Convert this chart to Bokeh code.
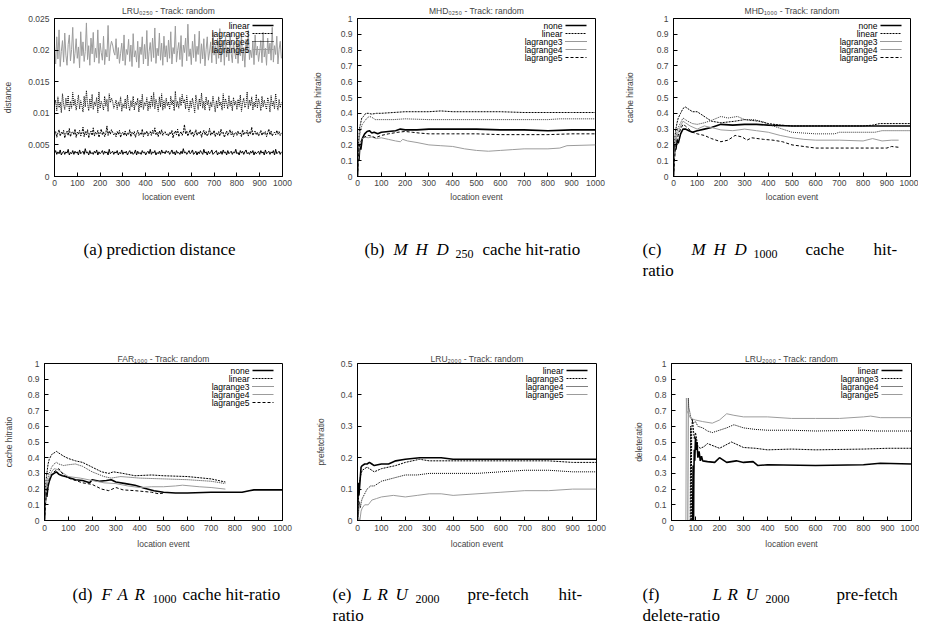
from bokeh.plotting import figure
from bokeh.layouts import column, row
from bokeh.models import Range1d, FixedTicker, PrintfTickFormatter, Label, Arrow
from bokeh.embed import file_html
from bokeh.resources import INLINE
from bokeh.core.properties import value

FONT = "Liberation Sans"
SERIF = "Liberation Serif"
GRAY = "#9c9c9c"
FS = "8.5px"

X_TICKS = [0, 100, 200, 300, 400, 500, 600, 700, 800, 900, 1000]
Y_TICKS_A = [0, 0.005, 0.01, 0.015, 0.02, 0.025]
Y_TICKS_1 = [0, 0.1, 0.2, 0.3, 0.4, 0.5, 0.6, 0.7, 0.8, 0.9, 1.0]
Y_TICKS_E = [0, 0.1, 0.2, 0.3, 0.4, 0.5]

# ---------------- (a) prediction distance (values in units of 1e-4) ----------------
A_X = list(range(0, 1000, 5))
A_LINEAR_E4 = [
    37,41,35,39,36,42,34,38,40,35,39,37,43,34,38,36,41,35,40,37,
    39,34,42,36,38,40,35,44,37,39,34,41,36,38,35,40,37,42,34,39,
    36,38,41,35,40,37,39,34,43,36,38,40,35,39,37,41,34,38,36,42,
    35,39,37,40,34,38,41,36,39,35,37,42,34,40,36,38,35,41,37,39,
    34,38,40,36,43,35,39,37,41,34,38,36,40,35,42,37,39,36,41,38,
    40,35,38,42,36,39,34,41,37,38,35,40,36,44,37,39,35,38,41,36,
    38,42,35,37,40,34,39,36,41,38,35,43,37,39,34,40,36,38,42,35,
    37,39,41,34,38,36,40,35,42,37,39,34,41,36,38,40,35,39,37,43,
    36,38,34,41,37,40,35,39,42,36,38,35,40,37,41,34,39,36,38,40,
    35,41,37,39,34,42,36,38,40,35,39,37,41,34,43,36,38,40,35,39]
A_LAG3_E4 = [
    66,71,62,69,74,64,70,67,73,61,68,72,65,76,63,69,71,66,75,62,
    70,67,73,64,69,78,63,71,66,74,61,68,72,65,77,64,70,67,73,62,
    69,75,66,71,63,68,80,65,72,67,74,70,66,69,63,71,67,73,62,68,
    70,65,72,64,69,66,74,63,70,67,71,62,68,73,65,69,66,75,63,70,
    67,72,64,69,71,65,73,68,77,66,70,63,72,67,74,65,69,71,66,68,
    64,70,67,73,61,69,72,66,75,63,68,71,65,70,82,67,72,64,69,74,
    66,71,63,68,74,65,70,67,72,62,69,73,66,71,64,68,76,65,70,67,
    73,63,69,66,71,64,75,68,70,62,67,72,65,69,74,66,71,63,68,70,
    65,72,67,69,63,74,66,70,68,73,64,71,67,78,65,69,72,66,70,64,
    68,73,65,70,67,71,63,69,75,66,72,64,68,70,66,73,67,71,65,69]
A_LAG4_E4 = [
    112,121,104,126,109,118,101,131,114,106,124,111,128,103,119,108,133,112,122,105,
    116,129,107,120,113,102,127,110,136,115,104,123,109,130,106,118,112,125,101,134,
    108,119,113,105,127,111,122,103,131,117,124,119,108,114,121,106,118,111,126,103,
    115,109,123,107,129,112,104,120,110,127,105,118,113,124,102,121,109,130,106,117,
    112,125,104,119,108,128,111,133,107,122,114,103,126,110,131,105,120,108,124,112,
    118,106,127,113,121,104,135,110,119,108,125,112,130,116,122,107,128,111,103,120,
    109,124,114,101,129,117,106,123,111,132,108,119,105,126,113,121,104,118,110,127,
    114,102,120,108,126,112,118,105,131,109,123,116,107,128,111,120,104,125,113,119,
    106,122,111,129,103,117,124,109,115,134,107,121,112,126,105,118,110,130,108,123,
    116,104,127,110,121,113,106,125,118,102,128,111,119,107,131,114,105,122,109,117]
A_LAG5_E4 = [
    205,178,221,186,232,174,198,215,181,227,192,176,209,224,183,201,236,179,195,218,
    187,205,172,229,191,213,182,198,243,185,207,176,219,194,228,181,203,188,232,179,
    211,196,184,222,177,201,189,239,183,205,214,208,197,192,218,186,204,179,195,211,
    183,224,176,201,193,217,182,208,174,226,189,199,181,214,172,205,193,221,178,209,
    186,231,175,198,212,182,219,188,235,179,203,191,227,184,211,176,222,189,207,181,
    216,187,229,178,204,194,238,181,199,212,185,223,174,208,196,219,183,241,190,202,
    177,214,188,225,182,206,193,230,179,210,186,218,175,201,221,184,197,213,180,228,
    192,207,178,219,187,234,181,200,215,176,223,189,205,183,227,195,180,212,198,186,
    220,179,209,191,226,183,204,173,217,196,231,185,200,188,214,177,224,192,206,182,
    197,215,180,228,189,203,176,219,194,211,184,236,181,207,193,222,178,201,214,187]
A_LINEAR = [v * 1e-4 for v in A_LINEAR_E4]
A_LAG3 = [v * 1e-4 for v in A_LAG3_E4]
A_LAG4 = [v * 1e-4 for v in A_LAG4_E4]
A_LAG5 = [v * 1e-4 for v in A_LAG5_E4]

# ---------------- (b) MHD250 cache hit ratio ----------------
B_NONE_X = [0,3,6,10,14,20,30,40,50,60,70,85,100,130,160,180,200,250,300,400,500,600,700,800,900,1000]
B_NONE_Y = [0,0.15,0.10,0.20,0.17,0.24,0.27,0.285,0.29,0.275,0.28,0.27,0.28,0.285,0.29,0.30,0.295,0.295,0.30,0.30,0.30,0.295,0.295,0.29,0.295,0.295]
B_LIN_X = [0,4,8,12,18,25,35,45,60,80,100,150,200,250,300,350,400,500,600,700,800,900,1000]
B_LIN_Y = [0,0.2,0.3,0.33,0.37,0.38,0.40,0.40,0.395,0.40,0.40,0.405,0.41,0.41,0.41,0.415,0.41,0.41,0.41,0.405,0.405,0.405,0.405]
B_L3_X = [0,4,8,14,20,30,40,50,60,75,100,150,200,300,400,500,600,700,800,850,900,1000]
B_L3_Y = [0,0.18,0.25,0.30,0.33,0.35,0.37,0.38,0.375,0.36,0.36,0.36,0.365,0.36,0.36,0.36,0.36,0.36,0.36,0.365,0.365,0.365]
B_L4_X = [0,4,8,14,20,30,45,60,80,100,130,160,180,190,210,250,300,350,400,450,500,550,600,650,700,800,850,880,1000]
B_L4_Y = [0,0.12,0.18,0.22,0.24,0.25,0.245,0.25,0.24,0.245,0.235,0.225,0.22,0.235,0.225,0.215,0.20,0.195,0.19,0.175,0.165,0.16,0.165,0.17,0.175,0.175,0.18,0.195,0.20]
B_L5_X = [0,4,8,14,20,30,45,60,75,100,130,170,200,230,260,300,400,500,600,700,800,900,1000]
B_L5_Y = [0,0.14,0.2,0.22,0.24,0.25,0.26,0.255,0.245,0.26,0.27,0.28,0.285,0.28,0.275,0.27,0.27,0.27,0.265,0.265,0.265,0.27,0.27]

# ---------------- (c) MHD1000 cache hit ratio ----------------
C_NONE_X = [0,3,6,10,15,20,30,40,50,65,80,100,130,160,200,250,300,350,400,500,600,700,800,900,1000]
C_NONE_Y = [0,0.12,0.2,0.17,0.23,0.21,0.27,0.30,0.30,0.29,0.28,0.29,0.30,0.31,0.33,0.325,0.33,0.33,0.325,0.32,0.32,0.32,0.32,0.32,0.32]
C_LIN_X = [0,3,6,10,15,20,30,40,50,60,80,100,120,140,160,200,230,260,300,330,360,400,450,500,600,700,800,840,870,1000]
C_LIN_Y = [0,0.15,0.25,0.3,0.34,0.37,0.40,0.43,0.44,0.43,0.41,0.41,0.39,0.37,0.35,0.34,0.345,0.35,0.36,0.355,0.35,0.335,0.325,0.32,0.32,0.32,0.32,0.325,0.335,0.335]
C_L3_X = [0,4,8,14,20,30,40,50,60,80,100,130,160,200,230,270,300,340,380,420,460,500,550,600,680,700,800,850,880,1000]
C_L3_Y = [0,0.15,0.22,0.28,0.31,0.34,0.37,0.36,0.35,0.335,0.33,0.34,0.355,0.38,0.37,0.38,0.36,0.36,0.345,0.32,0.30,0.28,0.275,0.27,0.27,0.28,0.28,0.28,0.29,0.29]
C_L4_X = [0,4,8,14,20,30,40,50,70,100,130,160,200,250,300,350,400,450,500,550,600,700,800,840,880,920,950]
C_L4_Y = [0,0.12,0.2,0.25,0.28,0.32,0.35,0.34,0.32,0.30,0.32,0.31,0.295,0.29,0.30,0.29,0.28,0.26,0.245,0.235,0.23,0.23,0.225,0.24,0.225,0.23,0.23]
C_L5_X = [0,4,8,14,20,30,40,50,65,80,100,130,160,200,230,260,290,310,330,380,420,460,500,550,600,700,800,900,920,950]
C_L5_Y = [0,0.10,0.18,0.22,0.26,0.30,0.33,0.32,0.30,0.28,0.27,0.26,0.24,0.22,0.23,0.26,0.25,0.23,0.245,0.235,0.23,0.22,0.20,0.19,0.18,0.18,0.18,0.18,0.19,0.185]

# ---------------- (d) FAR1000 cache hit ratio ----------------
D_NONE_X = [0,3,6,10,15,20,30,40,50,60,75,100,130,160,190,200,230,260,280,300,340,380,420,460,500,550,600,700,800,830,860,880,1000]
D_NONE_Y = [0,0.1,0.18,0.15,0.22,0.25,0.29,0.30,0.31,0.295,0.285,0.275,0.26,0.255,0.24,0.26,0.25,0.255,0.26,0.245,0.235,0.225,0.205,0.19,0.18,0.175,0.175,0.18,0.18,0.18,0.19,0.195,0.195]
D_LIN_X = [0,3,6,10,15,20,30,40,50,60,80,100,130,160,200,240,270,290,330,380,450,500,600,700,760]
D_LIN_Y = [0,0.15,0.25,0.3,0.36,0.39,0.42,0.43,0.44,0.43,0.41,0.395,0.38,0.37,0.34,0.31,0.30,0.31,0.30,0.285,0.29,0.285,0.28,0.265,0.245]
D_L3_X = [0,4,8,14,20,30,40,50,60,80,100,130,160,200,250,280,320,400,500,600,700,760]
D_L3_Y = [0,0.14,0.22,0.27,0.30,0.34,0.36,0.37,0.36,0.35,0.355,0.36,0.345,0.31,0.28,0.27,0.28,0.27,0.265,0.26,0.25,0.235]
D_L4_X = [0,4,8,14,20,30,40,55,70,100,150,200,250,300,350,400,450,500,550,580,650,700,760]
D_L4_Y = [0,0.12,0.2,0.24,0.27,0.31,0.33,0.325,0.31,0.28,0.27,0.255,0.24,0.235,0.22,0.21,0.215,0.215,0.22,0.225,0.215,0.21,0.20]
D_L5_X = [0,4,8,14,20,30,40,50,60,80,100,130,160,200,240,270,300,330,380,450,480,500]
D_L5_Y = [0,0.1,0.18,0.22,0.26,0.29,0.31,0.32,0.33,0.29,0.27,0.255,0.24,0.23,0.20,0.19,0.21,0.195,0.19,0.18,0.17,0.175]

# ---------------- (e) LRU2000 prefetch ratio ----------------
E_LIN_X = [0,3,6,10,15,20,30,40,50,60,70,100,130,160,200,260,300,350,400,500,600,700,800,900,1000]
E_LIN_Y = [0,0.12,0.08,0.12,0.17,0.175,0.18,0.18,0.185,0.18,0.175,0.18,0.18,0.19,0.195,0.20,0.20,0.20,0.195,0.195,0.195,0.195,0.195,0.195,0.195]
E_L3_X = [0,3,6,10,15,20,30,40,50,70,100,130,160,200,260,300,350,400,500,600,700,800,900,1000]
E_L3_Y = [0,0.05,0.1,0.13,0.15,0.16,0.165,0.17,0.165,0.155,0.165,0.17,0.175,0.185,0.195,0.19,0.19,0.19,0.19,0.19,0.19,0.19,0.185,0.185]
E_L4_X = [0,4,8,12,16,20,30,40,55,70,100,150,200,250,300,400,500,600,700,800,900,1000]
E_L4_Y = [0,0.02,0.06,0.04,0.06,0.07,0.085,0.1,0.11,0.11,0.125,0.135,0.145,0.145,0.15,0.15,0.15,0.155,0.16,0.16,0.155,0.155]
E_L5_X = [0,5,10,15,20,30,45,60,80,100,150,200,250,300,350,400,500,600,700,800,900,1000]
E_L5_Y = [0,0.01,0.0,0.03,0.04,0.05,0.05,0.065,0.07,0.075,0.08,0.075,0.08,0.085,0.085,0.08,0.085,0.09,0.095,0.095,0.1,0.1]

# ---------------- (f) LRU2000 delete ratio ----------------
F_LIN_X = [88,90,92,93,95,97,100,103,106,110,115,120,125,130,150,180,200,230,270,300,340,360,400,600,800,870,1000]
F_LIN_Y = [0,0.35,0,0.28,0.45,0.38,0.53,0.45,0.50,0.40,0.44,0.38,0.41,0.38,0.375,0.37,0.40,0.37,0.38,0.37,0.375,0.35,0.355,0.35,0.355,0.365,0.36]
F_L3_X = [78,80,82,84,87,90,95,100,110,120,135,150,200,250,300,350,400,500,600,800,900,1000]
F_L3_Y = [0,0.6,0.0,0.55,0.65,0.60,0.52,0.56,0.47,0.46,0.47,0.49,0.46,0.50,0.465,0.46,0.45,0.455,0.45,0.455,0.46,0.46]
F_L4_X = [68,70,72,75,80,90,100,110,130,150,170,200,230,260,300,350,400,500,600,800,850,1000]
F_L4_Y = [0,0.78,0.72,0.7,0.66,0.62,0.63,0.60,0.59,0.57,0.56,0.575,0.59,0.61,0.59,0.58,0.575,0.575,0.57,0.575,0.57,0.57]
F_L5_X = [60,62,64,70,80,100,130,170,200,230,260,300,400,500,600,700,800,830,870,1000]
F_L5_Y = [0,0.78,0.7,0.68,0.65,0.64,0.63,0.62,0.64,0.68,0.67,0.66,0.66,0.65,0.65,0.65,0.66,0.665,0.655,0.655]

# line styles
STYLE_MHD = {
    "none":      dict(line_color="black", line_width=1.6, line_dash="solid"),
    "linear":    dict(line_color="black", line_width=1.0, line_dash="2 1"),
    "lagrange3": dict(line_color="#333333", line_width=1.0, line_dash="1 1"),
    "lagrange4": dict(line_color=GRAY, line_width=1.0, line_dash="solid"),
    "lagrange5": dict(line_color="black", line_width=1.0, line_dash="3 2"),
}
STYLE_LRU = {
    "linear":    dict(line_color="black", line_width=1.6, line_dash="solid"),
    "lagrange3": dict(line_color="black", line_width=1.0, line_dash="2 1"),
    "lagrange4": dict(line_color="black", line_width=1.0, line_dash="1 1"),
    "lagrange5": dict(line_color=GRAY, line_width=1.0, line_dash="solid"),
}


def make_panel(title, ylabel, ymax, yticks, series, styles, fw, fh, bl, br, bt, bb,
               ylab_so, xtick_so, xlab_so, title_so, lw_noise=None):
    p = figure(frame_width=fw, frame_height=fh, min_border_left=bl, min_border_right=br,
               min_border_top=bt, min_border_bottom=bb,
               x_range=Range1d(0, 1000), y_range=Range1d(0, ymax),
               toolbar_location=None, output_backend="svg", title=title)
    p.title.text_font = FONT
    p.title.text_font_size = FS
    p.title.text_font_style = "normal"
    p.title.align = "center"
    p.title.standoff = title_so
    p.xgrid.visible = False
    p.ygrid.visible = False
    p.outline_line_color = "black"
    p.outline_line_width = 1

    p.xaxis.ticker = FixedTicker(ticks=X_TICKS)
    p.yaxis.ticker = FixedTicker(ticks=yticks)
    p.xaxis.formatter = PrintfTickFormatter(format="%g")
    p.yaxis.formatter = PrintfTickFormatter(format="%g")
    for ax in (p.xaxis[0], p.yaxis[0]):
        ax.major_tick_in = 4
        ax.major_tick_out = 0
        ax.minor_tick_line_color = None
        ax.major_label_text_font = FONT
        ax.major_label_text_font_size = FS
        ax.axis_label_text_font = FONT
        ax.axis_label_text_font_size = FS
        ax.axis_label_text_font_style = "normal"
        ax.axis_line_color = "black"
    p.xaxis.axis_label = "location event"
    p.yaxis.axis_label = ylabel
    p.yaxis.major_label_standoff = 5
    p.yaxis.axis_label_standoff = ylab_so
    p.xaxis.major_label_standoff = xtick_so
    p.xaxis.axis_label_standoff = xlab_so

    for name, xs, ys in series:
        st = dict(styles[name])
        if lw_noise is not None:
            st["line_width"] = lw_noise
        p.line(xs, ys, **st)

    # gnuplot-like key: text right-aligned, sample line on the right
    for i, (name, _, _) in enumerate(series):
        yy = fh - 7 - 8 * i
        p.add_layout(Label(x=fw - 33, y=yy, x_units="screen", y_units="screen", text=name,
                           text_align="right", text_baseline="middle",
                           text_font=FONT, text_font_size=FS, text_color="black"))
        st = styles[name]
        p.add_layout(Arrow(x_start=fw - 30, y_start=yy, x_end=fw - 9, y_end=yy,
                           start_units="screen", end_units="screen", start=None, end=None,
                           line_color=st["line_color"], line_width=st["line_width"],
                           line_dash=st["line_dash"]))
    return p


pa = make_panel("LRU\u2080\u2082\u2085\u2080 - Track: random", "distance", 0.025, Y_TICKS_A,
                [("linear", A_X, A_LINEAR), ("lagrange3", A_X, A_LAG3),
                 ("lagrange4", A_X, A_LAG4), ("lagrange5", A_X, A_LAG5)],
                STYLE_LRU, 228, 158, 49, 25, 16, 26, 12, 3, 3, 6, lw_noise=1.0)
pb = make_panel("MHD\u2080\u2082\u2085\u2080 - Track: random", "cache hitratio", 1.0, Y_TICKS_1,
                [("none", B_NONE_X, B_NONE_Y), ("linear", B_LIN_X, B_LIN_Y),
                 ("lagrange3", B_L3_X, B_L3_Y), ("lagrange4", B_L4_X, B_L4_Y),
                 ("lagrange5", B_L5_X, B_L5_Y)],
                STYLE_MHD, 238, 158, 50, 22, 16, 26, 15, 3, 3, 6)
pc = make_panel("MHD\u2081\u2080\u2080\u2080 - Track: random", "cache hitratio", 1.0, Y_TICKS_1,
                [("none", C_NONE_X, C_NONE_Y), ("linear", C_LIN_X, C_LIN_Y),
                 ("lagrange3", C_L3_X, C_L3_Y), ("lagrange4", C_L4_X, C_L4_Y),
                 ("lagrange5", C_L5_X, C_L5_Y)],
                STYLE_MHD, 237, 158, 56, 8, 16, 26, 19, 3, 3, 6)
pd = make_panel("FAR\u2081\u2080\u2080\u2080 - Track: random", "cache hitratio", 1.0, Y_TICKS_1,
                [("none", D_NONE_X, D_NONE_Y), ("linear", D_LIN_X, D_LIN_Y),
                 ("lagrange3", D_L3_X, D_L3_Y), ("lagrange4", D_L4_X, D_L4_Y),
                 ("lagrange5", D_L5_X, D_L5_Y)],
                STYLE_MHD, 238, 157, 38, 26, 12, 28, 11, 4, 5, 0)
pe = make_panel("LRU\u2082\u2080\u2080\u2080 - Track: random", "prefetchratio", 0.5, Y_TICKS_E,
                [("linear", E_LIN_X, E_LIN_Y), ("lagrange3", E_L3_X, E_L3_Y),
                 ("lagrange4", E_L4_X, E_L4_Y), ("lagrange5", E_L5_X, E_L5_Y)],
                STYLE_LRU, 239, 157, 49, 22, 12, 28, 12, 4, 5, 0)
pf = make_panel("LRU\u2082\u2080\u2080\u2080 - Track: random", "deleteratio", 1.0, Y_TICKS_1,
                [("linear", F_LIN_X, F_LIN_Y), ("lagrange3", F_L3_X, F_L3_Y),
                 ("lagrange4", F_L4_X, F_L4_Y), ("lagrange5", F_L5_X, F_L5_Y)],
                STYLE_LRU, 240, 157, 53, 8, 12, 28, 8, 4, 5, 0)

# ---------------- captions ----------------
PAGE_OFF = 8
CAP1_H = 147
CAP2_H = 73
CAP_FS = "17px"
SUB_FS = "12px"

# (text, page_x, line, kind) ; kind: r = roman, i = italic, s = subscript
CAPTION_TOP = [
    ("(a) prediction distance", 91, 0, "r"),
    ("(b)", 372, 0, "r"), ("M", 401, 0, "i"), ("H", 423, 0, "i"), ("D", 444, 0, "i"),
    ("250", 463, 0, "s"), ("cache hit-ratio", 490, 0, "r"),
    ("(c)", 650, 0, "r"), ("M", 699, 0, "i"), ("H", 721, 0, "i"), ("D", 742, 0, "i"),
    ("1000", 761, 0, "s"), ("cache", 813, 0, "r"), ("hit-", 881, 0, "r"),
    ("ratio", 650, 1, "r"),
]
CAPTION_BOT = [
    ("(d)", 80, 0, "r"), ("F", 109, 0, "i"), ("A", 125, 0, "i"), ("R", 142, 0, "i"),
    ("1000", 160, 0, "s"), ("cache hit-ratio", 190, 0, "r"),
    ("(e)", 340, 0, "r"), ("L", 370, 0, "i"), ("R", 385, 0, "i"), ("U", 403, 0, "i"),
    ("2000", 423, 0, "s"), ("pre-fetch", 475, 0, "r"), ("hit-", 566, 0, "r"),
    ("ratio", 340, 1, "r"),
    ("(f)", 650, 0, "r"), ("L", 720, 0, "i"), ("R", 735, 0, "i"), ("U", 753, 0, "i"),
    ("2000", 773, 0, "s"), ("pre-fetch", 844, 0, "r"),
    ("delete-ratio", 650, 1, "r"),
]
CAP_BASE_1 = 45   # baseline of first line inside strip 1
CAP_BASE_2 = 43
CAP_LINE = 21


def caption_strip(items, h, base):
    p = figure(width=913, height=h, x_range=Range1d(0, 913), y_range=Range1d(h, 0),
               x_axis_type=None, y_axis_type=None, min_border=0,
               toolbar_location=None, output_backend="svg")
    p.outline_line_color = None
    for kind, style, size, dy in (("r", "normal", CAP_FS, 0), ("i", "italic", CAP_FS, 0),
                                  ("s", "normal", SUB_FS, 4)):
        sel = [it for it in items if it[3] == kind]
        if not sel:
            continue
        p.text(x=[it[1] - PAGE_OFF for it in sel],
               y=[base + CAP_LINE * it[2] + dy for it in sel],
               text=[it[0] for it in sel],
               text_font=value(SERIF), text_font_size=size, text_font_style=style,
               text_align="left", text_baseline="alphabetic", text_color="black")
    return p


cap1 = caption_strip(CAPTION_TOP, CAP1_H, CAP_BASE_1)
cap2 = caption_strip(CAPTION_BOT, CAP2_H, CAP_BASE_2)

layout = column(row(pa, pb, pc), cap1, row(pd, pe, pf), cap2)

open("out.html", "w").write(file_html(layout, INLINE))
